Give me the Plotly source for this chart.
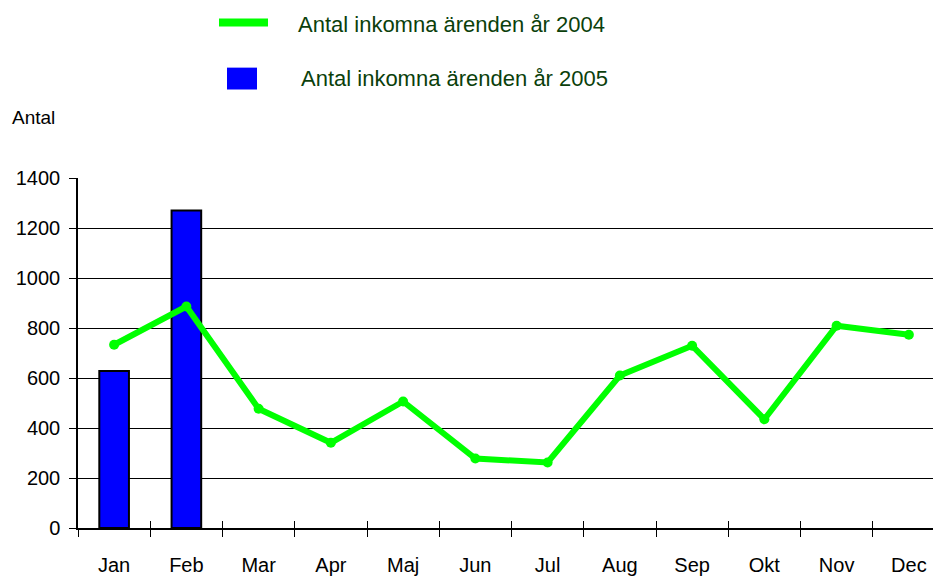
import plotly.graph_objects as go

months = ["Jan", "Feb", "Mar", "Apr", "Maj", "Jun", "Jul", "Aug", "Sep", "Okt", "Nov", "Dec"]
arenden_2004 = [733, 886, 477, 341, 506, 278, 262, 610, 729, 435, 809, 773]
arenden_2005 = [628, 1270]
months_2005 = months[:2]
y_ticks = [0, 200, 400, 600, 800, 1000, 1200, 1400]
name_2004 = "Antal inkomna ärenden år 2004"
name_2005 = "Antal inkomna ärenden år 2005"

FONT = "Liberation Sans, Arial, sans-serif"
TXT_GREEN = "#0B3F0B"

fig = go.Figure()
fig.add_trace(go.Bar(
    x=months_2005, y=arenden_2005, name=name_2005,
    marker=dict(color="#0000FF", line=dict(color="#000000", width=2)),
    width=0.41, showlegend=False,
))
fig.add_trace(go.Scatter(
    x=months, y=arenden_2004, name=name_2004, mode="lines+markers",
    line=dict(color="#00FF00", width=6),
    marker=dict(color="#00FF00", size=10),
    showlegend=False, cliponaxis=False,
))
# invisible trace on overlay axes to give them inside ticks
fig.add_trace(go.Scatter(x=months, y=[None]*12, xaxis="x2", yaxis="y2",
                         showlegend=False, hoverinfo="skip"))

x_range = [-0.5, 11.334]
fig.update_layout(
    width=933, height=576,
    margin=dict(l=78, r=0, t=178, b=46),
    paper_bgcolor="white", plot_bgcolor="white",
    font=dict(family=FONT, size=20, color="#000000"),
    bargap=0.59,
    xaxis=dict(
        type="category", categoryorder="array", categoryarray=months,
        range=x_range, tickson="boundaries", ticks="outside", ticklen=7,
        tickcolor="#000000", tickwidth=1, showline=True, linecolor="#000000",
        linewidth=1.5, showgrid=False, ticklabelstandoff=18,
        tickfont=dict(size=20, family=FONT, color="#000000"),
    ),
    xaxis2=dict(
        type="category", categoryorder="array", categoryarray=months,
        overlaying="x", range=x_range, tickson="boundaries", ticks="inside",
        ticklen=7, tickcolor="#000000", tickwidth=1, showticklabels=False,
        showgrid=False, showline=False, matches="x",
    ),
    yaxis=dict(
        range=[0, 1400], tickvals=y_ticks, ticks="outside", ticklen=7,
        tickcolor="#000000", tickwidth=1, showline=True, linecolor="#000000",
        linewidth=1.5, showgrid=True, gridcolor="#000000", gridwidth=1,
        zeroline=False, ticklabelstandoff=5,
        tickfont=dict(size=20, family=FONT, color="#000000"),
    ),
    yaxis2=dict(
        range=[0, 1400], tickvals=y_ticks, overlaying="y", ticks="inside",
        ticklen=8, tickcolor="#000000", tickwidth=1, showticklabels=False,
        showgrid=False, zeroline=False, showline=False,
    ),
)

# plot area spans window px x 78..933, y 178..530 (855 x 352)
PW, PH, PL, PB = 855.0, 352.0, 78.0, 530.0

def px(x):
    return (x - PL) / PW

def py(y):
    return (PB - y) / PH

# legend drawn manually
fig.add_shape(type="line", xref="paper", yref="paper",
              x0=px(219), x1=px(268), y0=py(21.5), y1=py(21.5),
              line=dict(color="#00FF00", width=8))
fig.add_shape(type="rect", xref="paper", yref="paper",
              x0=px(227), x1=px(257), y0=py(89), y1=py(67),
              fillcolor="#0000FF", line=dict(width=0))
fig.add_annotation(text=name_2004, xref="paper", yref="paper",
                   x=px(296), y=py(24),
                   xanchor="left", yanchor="middle", showarrow=False,
                   font=dict(size=22, family=FONT, color=TXT_GREEN))
fig.add_annotation(text=name_2005, xref="paper", yref="paper",
                   x=px(299), y=py(78),
                   xanchor="left", yanchor="middle", showarrow=False,
                   font=dict(size=22, family=FONT, color=TXT_GREEN))
fig.add_annotation(text="Antal", xref="paper", yref="paper",
                   x=px(10), y=py(117),
                   xanchor="left", yanchor="middle", showarrow=False,
                   font=dict(size=19, family=FONT, color="#000000"))

fig.write_html(
    "out.html",
    config={"displayModeBar": False},
    post_script="document.body.style.margin='0';document.body.style.overflow='hidden';",
)
